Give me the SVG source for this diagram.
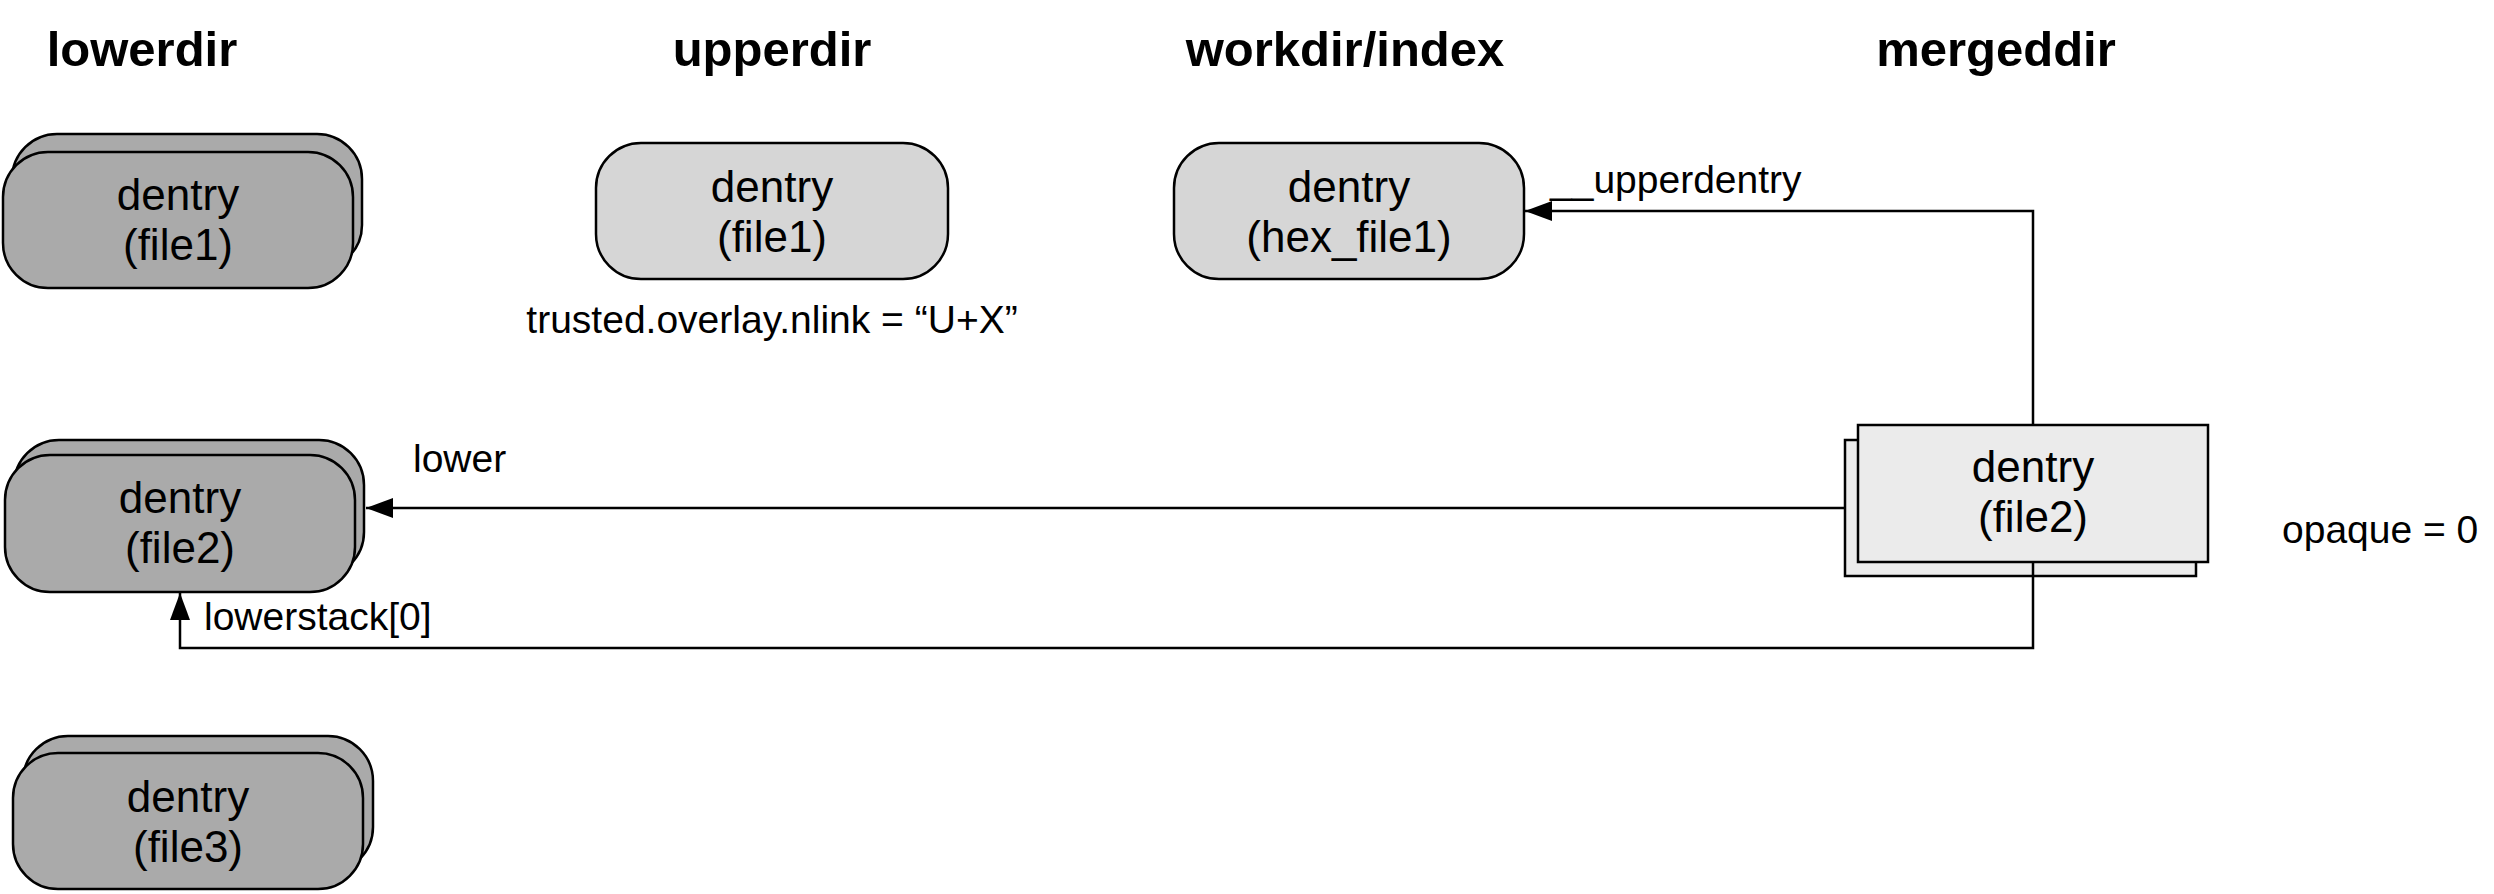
<svg xmlns="http://www.w3.org/2000/svg" width="2494" height="894" viewBox="0 0 2494 894">
<style>
text{font-family:"Liberation Sans",Arial,Helvetica,sans-serif;fill:#000}
.hdr{font-size:49px;font-weight:bold;text-anchor:middle}
.nt{font-size:44px;text-anchor:middle}
.lbl{font-size:39px}
.low{fill:#aaaaaa;stroke:#000;stroke-width:2.5}
.up{fill:#d6d6d6;stroke:#000;stroke-width:2.5}
.mg{fill:#ebebeb;stroke:#000;stroke-width:2.5}
.cn{fill:none;stroke:#000;stroke-width:2.5}
</style>
<defs>
<marker id="ah" viewBox="0 0 27 20" refX="27" refY="10" markerWidth="27" markerHeight="20" markerUnits="userSpaceOnUse" orient="auto">
<path d="M0,0 L27,10 L0,20 z" fill="#000"/>
</marker>
</defs>
<rect width="2494" height="894" fill="#fff"/>
<g id="headers">
<text class="hdr" x="142" y="66">lowerdir</text>
<text class="hdr" x="772" y="66">upperdir</text>
<text class="hdr" x="1345" y="66">workdir/index</text>
<text class="hdr" x="1996" y="66">mergeddir</text>
</g>
<g id="lower-file1">
<rect class="low" x="12" y="134" width="350" height="136" rx="45" ry="45"/>
<rect class="low" x="3" y="152" width="350" height="136" rx="45" ry="45"/>
<text class="nt" x="178" y="210">dentry</text>
<text class="nt" x="178" y="260">(file1)</text>
</g>
<g id="lower-file2">
<rect class="low" x="14" y="440" width="350" height="137" rx="45" ry="45"/>
<rect class="low" x="5" y="455" width="350" height="137" rx="45" ry="45"/>
<text class="nt" x="180" y="513">dentry</text>
<text class="nt" x="180" y="563">(file2)</text>
</g>
<g id="lower-file3">
<rect class="low" x="23" y="736" width="350" height="136" rx="45" ry="45"/>
<rect class="low" x="13" y="753" width="350" height="136" rx="45" ry="45"/>
<text class="nt" x="188" y="812">dentry</text>
<text class="nt" x="188" y="862">(file3)</text>
</g>
<g id="upper-file1">
<rect class="up" x="596" y="143" width="352" height="136" rx="45" ry="45"/>
<text class="nt" x="772" y="202">dentry</text>
<text class="nt" x="772" y="252">(file1)</text>
<text class="lbl" x="772" y="333" text-anchor="middle">trusted.overlay.nlink = “U+X”</text>
</g>
<g id="work-hexfile1">
<rect class="up" x="1174" y="143" width="350" height="136" rx="45" ry="45"/>
<text class="nt" x="1349" y="202">dentry</text>
<text class="nt" x="1349" y="252">(hex_file1)</text>
</g>
<g id="merged-file2">
<rect class="mg" x="1845" y="440" width="351" height="136"/>
<rect class="mg" x="1858" y="425" width="350" height="137"/>
<text class="nt" x="2033" y="482">dentry</text>
<text class="nt" x="2033" y="532">(file2)</text>
<text class="lbl" x="2282" y="543">opaque = 0</text>
</g>
<g id="connectors">
<path class="cn" d="M2033,425 V211 H1525" marker-end="url(#ah)"/>
<path class="cn" d="M1845,508 H366" marker-end="url(#ah)"/>
<path class="cn" d="M2033,562 V648 H180 V593" marker-end="url(#ah)"/>
<text class="lbl" x="1550" y="193">__upperdentry</text>
<text class="lbl" x="413" y="472">lower</text>
<text class="lbl" x="204" y="630">lowerstack[0]</text>
</g>
</svg>
